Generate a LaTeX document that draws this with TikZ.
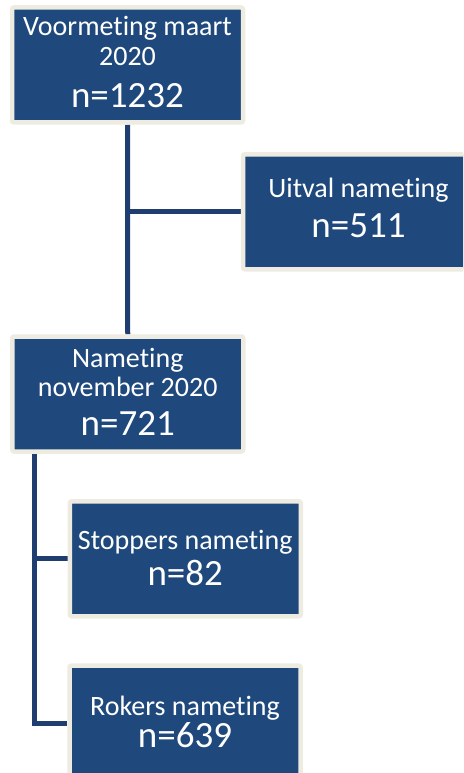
\documentclass[tikz,border=0pt]{standalone}
\usepackage{fontspec}
\setmainfont{Carlito}[Ligatures=NoCommon]
\usetikzlibrary{positioning,backgrounds}

\definecolor{boxblue}{HTML}{1F497D}
\definecolor{lineblue}{HTML}{1F3D6E}
\definecolor{rim}{HTML}{EEECE1}

\newcommand*{\nval}[2][10pt]{\\[#1]{\fontsize{37}{40}\selectfont n=#2}}

\begin{document}
\begin{tikzpicture}
[
	x=1pt,y=-1pt,
	stagebox/.style={rectangle,draw=rim,fill=boxblue,line width=4.5pt,rounded corners=2pt,
		minimum width=231pt,minimum height=115pt,inner sep=0pt,align=center,
		text=white,font=\fontsize{28}{30}\selectfont,text depth=0pt},
	link/.style={draw=lineblue,line width=5pt}
]

	% page
	\useasboundingbox (0,0) rectangle (463,773);
	\clip (0,0) rectangle (463,773);

	% boxes
	\node[stagebox,text height=86pt] (pre) at (127.5,65) {Voormeting maart\\2020\nval[12pt]{1232}};
	\node[stagebox,text height=50.5pt] (drop) at (358.5,211.75) {Uitval nameting\nval[10pt]{511}};
	\node[stagebox,text height=82pt] (post) at (127.75,394) {Nameting\\[-1pt]november 2020\nval[9pt]{721}};
	\node[stagebox,text height=52.5pt] (stop) at (185.25,558.75) {Stoppers nameting\nval[4pt]{82}};
	\node[stagebox,text height=48pt] (smoke) at (185,723) {Rokers nameting\nval[2pt]{639}};

	% connectors
	\coordinate (trunk) at (34.5,0);
	\begin{pgfonlayer}{background}
	\draw[link] (pre.south) -- (post.north);
	\draw[link] (pre.south |- drop.west) -- (drop.west);
	\draw[link] (post.south -| trunk) -- (trunk |- smoke.west) -- (smoke.west);
	\draw[link] (trunk |- stop.west) -- (stop.west);
	\end{pgfonlayer}

\end{tikzpicture}
\end{document}
